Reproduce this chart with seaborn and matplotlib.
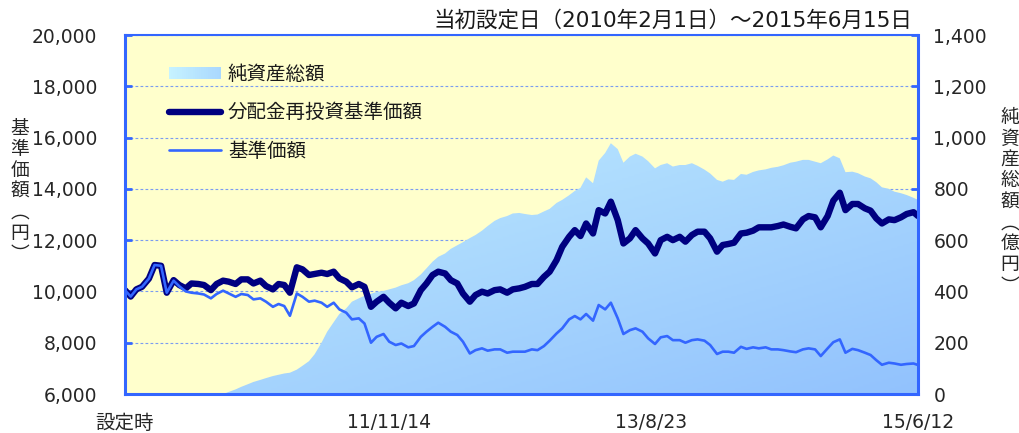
import numpy as np
import pandas as pd
import matplotlib
matplotlib.use("Agg")
import matplotlib.pyplot as plt
import matplotlib.dates as mdates
from matplotlib.colors import LinearSegmentedColormap
from matplotlib.patches import Patch, Rectangle
from matplotlib.lines import Line2D
from matplotlib.legend_handler import HandlerBase
from matplotlib.ticker import StrMethodFormatter
import seaborn as sns


# Sample dates: 1st and 15th of every month, plus the last date shown
dates = list(pd.date_range("2010-02-01", "2015-06-01", freq="SMS")) + [pd.Timestamp("2015-06-12")]

# 分配金再投資基準価額 (円)
reinvested = [
    10050, 9800, 10080, 10180, 10500, 11030, 11000, 9950, 10440, 10250,
    10120, 10310, 10290, 10250, 10050, 10290, 10420, 10380, 10290, 10470,
    10470, 10310, 10420, 10210, 10080, 10290, 10250, 9950, 10940, 10860,
    10640, 10680, 10730, 10680, 10770, 10510, 10380, 10160, 10290, 10180,
    9400, 9600, 9790, 9560, 9340, 9560, 9430, 9530, 10050, 10310,
    10640, 10770, 10700, 10440, 10310, 9920, 9600, 9860, 9990, 9920,
    10050, 10080, 9950, 10080, 10120, 10180, 10290, 10290, 10570, 10770,
    11220, 11740, 12130, 12390, 12160, 12650, 12260, 13170, 13040, 13500,
    12780, 11870, 12070, 12390, 12070, 11870, 11480, 12000, 12130, 12000,
    12130, 11940, 12200, 12330, 12330, 12070, 11550, 11810, 11850, 11900,
    12260, 12290, 12370, 12500, 12500, 12500, 12550, 12610, 12520, 12460,
    12810, 12940, 12890, 12500, 12940, 13540, 13850, 13170, 13410, 13410,
    13240, 13150, 12850, 12650, 12810, 12780, 12890, 13020, 13090, 12940,
]

# 基準価額 (円)
nav = [
    10050, 9800, 10080, 10180, 10500, 11030, 11000, 9950, 10420, 10200,
    10000, 9950, 9920, 9880, 9730, 9900, 10030, 9920, 9790, 9900,
    9860, 9690, 9730, 9600, 9400, 9510, 9430, 9050, 9920, 9790,
    9600, 9640, 9560, 9400, 9560, 9300, 9170, 8910, 8950, 8750,
    8000, 8230, 8340, 8040, 7910, 7970, 7820, 7870, 8230, 8430,
    8620, 8780, 8620, 8430, 8300, 8040, 7580, 7710, 7780, 7690,
    7740, 7740, 7610, 7650, 7650, 7650, 7740, 7710, 7870, 8080,
    8360, 8560, 8910, 9040, 8910, 9120, 8860, 9470, 9300, 9560,
    8950, 8340, 8490, 8560, 8430, 8170, 7950, 8210, 8260, 8100,
    8100, 8000, 8100, 8130, 8080, 7910, 7560, 7650, 7650, 7610,
    7840, 7760, 7820, 7780, 7820, 7740, 7740, 7710, 7660, 7630,
    7740, 7780, 7740, 7480, 7780, 8020, 8130, 7610, 7760, 7710,
    7610, 7520, 7320, 7140, 7220, 7190, 7140, 7170, 7190, 7130,
]

# 純資産総額 (億円)
net_assets = [
    0, 0, 0, 0, 0, 0, 0, 0, 0, 0,
    0, 0, 0, 0, 0, 0, 0, 8, 18, 28,
    38, 47, 55, 62, 70, 75, 80, 83, 95, 110,
    128, 155, 200, 243, 280, 312, 334, 360, 373, 383,
    391, 398, 402, 408, 415, 424, 432, 444, 466, 490,
    516, 535, 548, 566, 580, 592, 608, 620, 637, 655,
    675, 686, 694, 704, 706, 702, 698, 700, 712, 722,
    745, 757, 775, 792, 804, 845, 822, 910, 940, 978,
    955, 902, 926, 937, 926, 908, 880, 893, 900, 887,
    893, 893, 900, 890, 875, 860, 835, 828, 837, 835,
    858, 855, 866, 872, 876, 882, 886, 892, 902, 906,
    913, 913, 906, 900, 915, 930, 919, 865, 867, 861,
    848, 841, 826, 806, 800, 789, 783, 776, 765, 757,
]

xtick_dates = ["2010-02-01", "2011-11-14", "2013-08-23", "2015-06-12"]
xtick_labels = ["設定時", "11/11/14", "13/8/23", "15/6/12"]
left_ticks = list(range(6000, 20001, 2000))
right_ticks = list(range(0, 1401, 200))
title = "当初設定日（2010年2月1日）～2015年6月15日"
legend_labels = ["純資産総額", "分配金再投資基準価額", "基準価額"]

sns.set_style("white")
plt.rcParams["font.family"] = ["DejaVu Sans", "Noto Sans CJK JP"]
plt.rcParams["text.color"] = "#1a1a1a"
CJK = ["Noto Sans CJK JP", "DejaVu Sans"]

BLUE = "#3366ff"
NAVY = "#000080"
FS = 13.5
grad_cmap = LinearSegmentedColormap.from_list("grad", ["#c9f5ff", "#92c2fd"])

fig = plt.figure(figsize=(10.19, 4.33), dpi=100)
ax = fig.add_axes([125 / 1019, 1 - 394 / 433, 793 / 1019, 359 / 433])
ax2 = ax.twinx()
ax.set_zorder(ax2.get_zorder() + 1)
ax.patch.set_visible(False)
ax2.patch.set_visible(True)
ax2.patch.set_facecolor("#ffffcc")

# Net assets: gradient area on the right axis
poly = ax2.fill_between(dates, net_assets, 0, facecolor="none", edgecolor="none")
x0 = mdates.date2num(pd.Timestamp(xtick_dates[0]))
x1 = mdates.date2num(pd.Timestamp(xtick_dates[-1]))
yy, xx = np.mgrid[0:1:200j, 0:1:400j]
shade = 0.6 * (1 - yy) + 0.4 * xx
img = ax2.imshow(shade, extent=[x0, x1, 0, 1400], origin="lower", aspect="auto",
                 cmap=grad_cmap, vmin=0, vmax=1, zorder=1, interpolation="bilinear")
img.set_clip_path(poly.get_paths()[0], ax2.transData)

# Grid lines (behind the area)
ax2.set_axisbelow(True)
ax2.yaxis.grid(True, linestyle=(0, (2.5, 2)), color="#7b9cf0", linewidth=0.8)
ax2.xaxis.grid(False)
ax.grid(False)

# NAV lines on the left axis
sns.lineplot(x=dates, y=reinvested, ax=ax, color=NAVY, linewidth=4.6, legend=False,
             solid_joinstyle="round", solid_capstyle="round")
sns.lineplot(x=dates, y=nav, ax=ax, color=BLUE, linewidth=1.9, legend=False,
             solid_joinstyle="round")

ax.set_xlim(pd.Timestamp(xtick_dates[0]), pd.Timestamp(xtick_dates[-1]))
ax.set_ylim(6000, 20000)
ax2.set_ylim(0, 1400)

ax.set_xticks([pd.Timestamp(d) for d in xtick_dates])
ax.set_xticklabels(xtick_labels)
ax.set_yticks(left_ticks)
ax.yaxis.set_major_formatter(StrMethodFormatter("{x:,.0f}"))
ax2.set_yticks(right_ticks)
ax2.yaxis.set_major_formatter(StrMethodFormatter("{x:,.0f}"))

ax.tick_params(axis="y", direction="in", length=5, width=2, color=BLUE, pad=20, labelsize=FS)
ax.tick_params(axis="x", direction="in", length=7, width=2, color=BLUE, pad=14, labelsize=FS)
ax2.tick_params(axis="y", direction="in", length=5, width=2, color=BLUE, pad=11, labelsize=FS)
for lab in ax.get_xticklabels():
    if lab.get_text() == xtick_labels[0]:
        lab.set_family(CJK)
        lab.set_fontsize(14)

for side, sp in ax.spines.items():
    sp.set_visible(True)
    sp.set_color(BLUE)
    sp.set_linewidth(2.2)
ax.spines["top"].set_linewidth(1.5)
for sp in ax2.spines.values():
    sp.set_visible(False)

ax.set_xlabel("")
ax.set_ylabel("基\n準\n価\n額\n︵\n円\n︶", rotation=0, fontsize=13.5, linespacing=1.0,
              ha="center", va="center", family=CJK)
ax.yaxis.set_label_coords(-0.1324, 0.565)
ax2.set_ylabel("純\n資\n産\n総\n額\n︵\n億\n円\n︶", rotation=0, fontsize=13.5, linespacing=1.0,
               ha="center", va="center", family=CJK)
ax2.yaxis.set_label_coords(1.116, 0.535)

fig.text(912 / 1019, 1 - 20 / 433, title, ha="right", va="center", fontsize=15.5)


class GradientHandler(HandlerBase):
    def create_artists(self, legend, orig_handle, xdescent, ydescent, width, height, fontsize, trans):
        n = 24
        return [Rectangle((-xdescent + width * i / n, -ydescent), width / n * 1.05, height,
                          facecolor=grad_cmap(0.05 + 0.55 * i / n), edgecolor="none", transform=trans)
                for i in range(n)]


handles = [
    Patch(label=legend_labels[0]),
    Line2D([], [], color=NAVY, linewidth=4.6, solid_capstyle="round", label=legend_labels[1]),
    Line2D([], [], color=BLUE, linewidth=1.9, label=legend_labels[2]),
]
ax.legend(handles=handles, loc="upper left", bbox_to_anchor=(0.055, 0.92), frameon=False,
          prop={"family": CJK, "size": 14}, handlelength=2.7, handleheight=0.55,
          handletextpad=0.35, labelspacing=0.9, borderaxespad=0, borderpad=0,
          handler_map={Patch: GradientHandler()})

fig.savefig("out.png", dpi=100)
